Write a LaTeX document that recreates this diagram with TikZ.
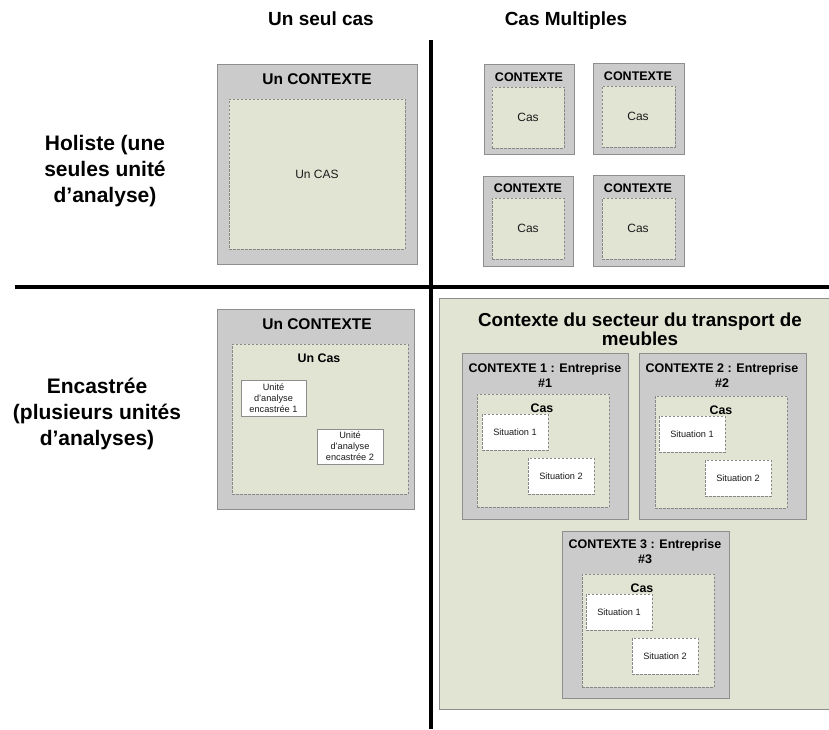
\documentclass[tikz,border=0pt]{standalone}
\usepackage{fontspec}
\setmainfont{Liberation Sans}
\definecolor{boxgray}{HTML}{CBCBCB}
\definecolor{bordergray}{HTML}{8E8E8E}
\definecolor{olive}{HTML}{E2E4D3}
\definecolor{dashgray}{HTML}{888888}
\definecolor{txt}{HTML}{1A1A1A}
\newcommand{\fs}[2]{\fontsize{#1}{#2}\selectfont}
\newcommand{\mybox}[6]{\node[#1, anchor=north west, minimum width={(#5)-(#3)}, minimum height={(#6)-(#4)}] (#2) at (#3,#4) {};}
\tikzset{
  ctx/.style={draw=bordergray, fill=boxgray, line width=0.8pt, inner sep=0pt, outer sep=0pt},
  casbox/.style={draw=dashgray, fill=olive, dashed, dash pattern=on 2.5pt off 1.5pt, line width=0.6pt, inner sep=0pt, outer sep=0pt},
  panel/.style={draw=bordergray, fill=olive, line width=0.8pt, inner sep=0pt, outer sep=0pt},
  unitbox/.style={draw=bordergray, fill=white, line width=0.6pt, inner sep=0pt, outer sep=0pt},
  sitbox/.style={draw=dashgray, fill=white, dash pattern=on 2.5pt off 1.5pt, line width=0.6pt, inner sep=0pt, outer sep=0pt},
  head/.style={font=\bfseries\fs{19}{22}, text=black, inner sep=0pt, anchor=base},
  rowlab/.style={font=\bfseries\fs{21}{26}, align=center, text=black, inner sep=0pt},
  bigtitle/.style={font=\bfseries\fs{15.5}{18}, text=black, inner sep=0pt},
  smalltitle/.style={font=\bfseries\fs{12.5}{15}, align=center, text=black, inner sep=0pt},
  body/.style={font=\fs{12}{14}, text=txt, inner sep=0pt},
  boldbody/.style={font=\bfseries\fs{12.4}{14}, text=black, inner sep=0pt},
  tiny/.style={font=\fs{9.2}{11}, align=center, text=txt, inner sep=0pt},
  divider/.style={line width=3.5pt, black}
}
\begin{document}
\begin{tikzpicture}[x=1pt, y=-1pt]
\useasboundingbox (0,0) rectangle (829,730);
% headers
\node[head] (h1) at (321,26) {Un seul cas};
\node[head] (h2) at (566,26) {Cas Multiples};
% row labels
\node[rowlab] (r1) at (105,171) {Holiste (une\\seules unité\\d’analyse)};
\node[rowlab] (r2) at (97,414) {Encastrée\\(plusieurs unités\\d’analyses)};
% dividers
\coordinate (vt) at (431,40);
\coordinate (vb) at (431,729);
\coordinate (hl) at (15,287);
\coordinate (hr) at (829,287);
\draw[divider] (vt) -- (vb);
\draw[divider] (hl) -- (hr);
% Box A: single holistic
\mybox{ctx}{ca}{217}{64}{417}{264}
\mybox{casbox}{ia}{229}{99}{405}{249}
\node[bigtitle] (ta) at (317,79) {Un CONTEXTE};
\node[body] (la) at (317,174) {Un CAS};
% small boxes
\mybox{ctx}{c1}{484}{64}{574}{154}
\mybox{casbox}{i1}{492}{87}{564}{148}
\node[smalltitle] (t1) at (529,77.5) {CONTEXTE};
\node[body] (l1) at (528,117) {Cas};
\mybox{ctx}{c2}{593}{63}{684}{154}
\mybox{casbox}{i2}{602}{86}{675}{147}
\node[smalltitle] (t2) at (638,76.5) {CONTEXTE};
\node[body] (l2) at (638,116) {Cas};
\mybox{ctx}{c3}{483}{176}{573}{266}
\mybox{casbox}{i3}{492}{198}{564}{259}
\node[smalltitle] (t3) at (528,188.5) {CONTEXTE};
\node[body] (l3) at (528,228) {Cas};
\mybox{ctx}{c4}{593}{175}{684}{266}
\mybox{casbox}{i4}{602}{198}{675}{259}
\node[smalltitle] (t4) at (638,188) {CONTEXTE};
\node[body] (l4) at (638,228) {Cas};
% Box B: single embedded
\mybox{ctx}{cb}{217}{309}{414}{509}
\mybox{casbox}{ib}{232}{344}{408}{494}
\node[bigtitle] (tb) at (317,324) {Un CONTEXTE};
\node[boldbody] (lb) at (319,358) {Un Cas};
\mybox{unitbox}{u1}{241}{380}{306}{416}
\node[tiny] (u1t) at (u1.center) {Unité\\d’analyse\\encastrée 1};
\mybox{unitbox}{u2}{317}{429}{383}{464}
\node[tiny] (u2t) at (u2.center) {Unité\\d’analyse\\encastrée 2};
% Panel: multiple embedded
\mybox{panel}{pn}{439}{298}{830}{709}
\node[font=\bfseries\fs{18.8}{19}, align=center, text=black, inner sep=0pt] (pt) at (640,329) {Contexte du secteur du transport de\\meubles};
% context 1
\mybox{ctx}{k1}{462}{353}{628}{519}
\node[smalltitle] (k1t) at (545,375) {CONTEXTE 1 : Entreprise\\\#1};
\mybox{casbox}{ki1}{477}{394}{609}{507}
\node[boldbody] (k1c) at (542,408) {Cas};
\mybox{sitbox}{s11}{482}{414}{548}{450}
\node[tiny] (s11t) at (s11.center) {Situation 1};
\mybox{sitbox}{s12}{528}{458}{594}{494}
\node[tiny] (s12t) at (s12.center) {Situation 2};
% context 2
\mybox{ctx}{k2}{639}{353}{806}{519}
\node[smalltitle] (k2t) at (722,375) {CONTEXTE 2 : Entreprise\\\#2};
\mybox{casbox}{ki2}{655}{396}{787}{508}
\node[boldbody] (k2c) at (721,410) {Cas};
\mybox{sitbox}{s21}{659}{416}{725}{452}
\node[tiny] (s21t) at (s21.center) {Situation 1};
\mybox{sitbox}{s22}{705}{460}{771}{496}
\node[tiny] (s22t) at (s22.center) {Situation 2};
% context 3
\mybox{ctx}{k3}{562}{531}{729}{698}
\node[smalltitle] (k3t) at (645,552) {CONTEXTE 3 : Entreprise\\\#3};
\mybox{casbox}{ki3}{582}{574}{714}{687}
\node[boldbody] (k3c) at (642,588) {Cas};
\mybox{sitbox}{s31}{586}{594}{652}{630}
\node[tiny] (s31t) at (s31.center) {Situation 1};
\mybox{sitbox}{s32}{632}{638}{698}{674}
\node[tiny] (s32t) at (s32.center) {Situation 2};
\end{tikzpicture}
\end{document}
